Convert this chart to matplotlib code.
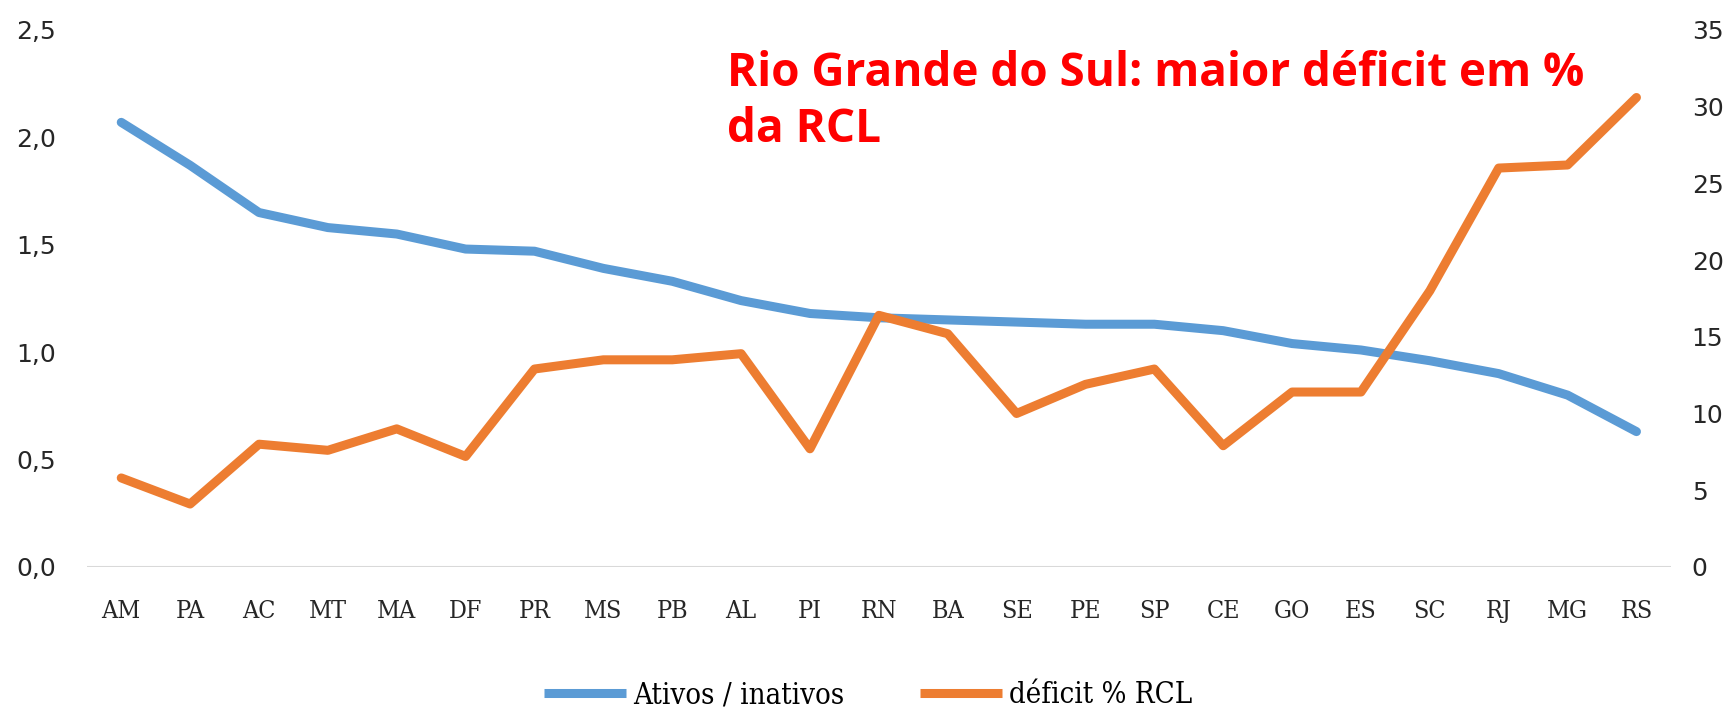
import matplotlib
matplotlib.use("Agg")
import matplotlib.pyplot as plt
from matplotlib.ticker import FuncFormatter

estados = ["AM", "PA", "AC", "MT", "MA", "DF", "PR", "MS", "PB", "AL", "PI", "RN",
           "BA", "SE", "PE", "SP", "CE", "GO", "ES", "SC", "RJ", "MG", "RS"]
ativos_inativos = [2.07, 1.87, 1.65, 1.58, 1.55, 1.48, 1.47, 1.39, 1.33, 1.24, 1.18, 1.16,
                   1.15, 1.14, 1.13, 1.13, 1.10, 1.04, 1.01, 0.96, 0.90, 0.80, 0.63]
deficit_rcl = [5.8, 4.1, 8.0, 7.6, 9.0, 7.2, 12.9, 13.5, 13.5, 13.9, 7.7, 16.4,
               15.2, 10.0, 11.9, 12.9, 7.9, 11.4, 11.4, 18.0, 26.0, 26.2, 30.6]

left_ticks = [0.0, 0.5, 1.0, 1.5, 2.0, 2.5]
right_ticks = [0, 5, 10, 15, 20, 25, 30, 35]

azul = "#5B9BD5"
laranja = "#ED7D31"
cat_font = dict(family="DejaVu Serif", stretch="condensed")

fig = plt.figure(figsize=(17.36, 7.14), dpi=100)
ax = fig.add_axes([0.050, 0.206, 0.9125, 0.752])
ax2 = ax.twinx()

x = list(range(len(estados)))
l1, = ax.plot(x, ativos_inativos, color=azul, lw=6.5, solid_capstyle="round",
              solid_joinstyle="round", label="Ativos / inativos")
l2, = ax2.plot(x, deficit_rcl, color=laranja, lw=6.5, solid_capstyle="round",
               solid_joinstyle="round", label="déficit % RCL")

ax.set_xlim(-0.5, len(estados) - 0.5)
ax.set_ylim(0, 2.5)
ax2.set_ylim(0, 35)
ax.set_yticks(left_ticks)
ax2.set_yticks(right_ticks)
ax.yaxis.set_major_formatter(FuncFormatter(lambda v, p: f"{v:.1f}".replace(".", ",")))
ax.set_xticks(x)
ax.set_xticklabels(estados, fontsize=21, color="black", **cat_font)

for a in (ax, ax2):
    for s in a.spines.values():
        s.set_visible(False)
    a.tick_params(length=0, colors="#262626", labelsize=18)
ax.tick_params(axis="y", pad=22)
ax2.tick_params(axis="y", pad=15)
ax.tick_params(axis="x", pad=24)
ax.axhline(0, color="#D9D9D9", lw=1.5, zorder=0)

fig.text(0.419, 0.93, "Rio Grande do Sul: maior déficit em %\nda RCL", color="red",
         fontsize=33, fontweight="bold", family="Open Sans", va="top", ha="left",
         linespacing=1.25)

leg = fig.legend(handles=[l1, l2], loc="center", bbox_to_anchor=(0.5, 0.026), ncol=2,
                 frameon=False, handlelength=2.8, handletextpad=0.25, columnspacing=2.6,
                 prop=dict(size=21, **cat_font))
for h in leg.get_lines():
    h.set_solid_capstyle("butt")

fig.savefig("out.png", dpi=100)
